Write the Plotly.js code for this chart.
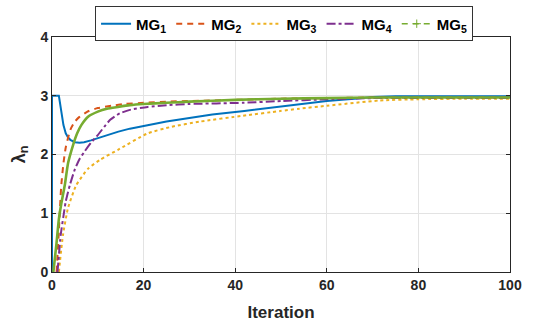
<!DOCTYPE html>
<html>
<head>
<meta charset="utf-8">
<script src="https://cdn.plot.ly/plotly-3.0.1.min.js"></script>
<style>html,body{margin:0;padding:0;background:#fff;}#chart{width:543px;height:327px;}</style>
</head>
<body>
<div id="chart"></div>
<script>
var mg1X = [0,0,1.5,2,2.5,3,3.5,4,5,6,7,8.5,10,12,14.5,17,21,25,30,35,42,48,54,60,66,70,75,80,90,100];
var mg1Y = [0,3,3,2.75,2.5,2.36,2.29,2.25,2.21,2.2,2.21,2.24,2.28,2.33,2.39,2.44,2.50,2.56,2.62,2.68,2.74,2.80,2.86,2.91,2.95,2.98,2.99,2.99,2.99,2.99];

var mg2X = [1,1.5,2,2.5,3,4,5,6,8,10,13,16,20,25,30,40,50,60,70,80,90,100];
var mg2Y = [0,0.7,1.45,1.85,2.12,2.42,2.56,2.64,2.74,2.79,2.83,2.86,2.88,2.90,2.91,2.93,2.95,2.96,2.97,2.97,2.97,2.97];

var mg3X = [1.5,2.4,3.5,5.3,7.9,10.5,14.4,20.9,26,32.3,41.7,49.8,54,60,71.6,80,90,100];
var mg3Y = [0,0.63,1.09,1.48,1.76,1.91,2.08,2.36,2.47,2.56,2.66,2.74,2.78,2.83,2.92,2.94,2.95,2.95];

var mg4X = [1.2,1.9,2.5,3,3.9,5,6,7.1,8.5,10,11.5,12.7,14.8,17,20.9,25,30,41.7,50,60,70,80,90,100];
var mg4Y = [0,0.63,0.95,1.2,1.48,1.75,1.92,2.05,2.2,2.33,2.48,2.59,2.70,2.76,2.81,2.84,2.86,2.88,2.91,2.94,2.96,2.96,2.96,2.96];

var mg5X = [0.3,1,1.5,2,2.8,3.5,4.6,5.5,6.4,8,10,12,14.4,17,20,25,30,40,50,60,70,80,90,100];
var mg5Y = [0,0.5,0.9,1.15,1.48,1.85,2.16,2.36,2.5,2.65,2.73,2.78,2.81,2.84,2.86,2.88,2.90,2.93,2.95,2.96,2.97,2.97,2.97,2.97];

var names = ['<b>MG<sub>1</sub></b>','<b>MG<sub>2</sub></b>','<b>MG<sub>3</sub></b>','<b>MG<sub>4</sub></b>','<b>MG<sub>5</sub></b>'];
var colors = ['#0072BD','#D95319','#EDB120','#7E2F8E','#77AC30'];

var traces = [
  {x: mg1X, y: mg1Y, name: names[0], mode: 'lines', line: {color: colors[0], width: 2}},
  {x: mg2X, y: mg2Y, name: names[1], mode: 'lines', line: {color: colors[1], width: 2, dash: '6px,5px', shape: 'spline', smoothing: 0.5}},
  {x: mg3X, y: mg3Y, name: names[2], mode: 'lines', line: {color: colors[2], width: 2, dash: 'dot', shape: 'spline', smoothing: 0.5}},
  {x: mg4X, y: mg4Y, name: names[3], mode: 'lines', line: {color: colors[3], width: 2, dash: 'dashdot', shape: 'spline', smoothing: 0.5}},
  {x: mg5X, y: mg5Y, name: names[4], mode: 'lines', showlegend: false, line: {color: colors[4], width: 2.6, shape: 'spline', smoothing: 0.5}},
  {x: [null], y: [null], name: names[4], mode: 'lines+markers', line: {color: colors[4], width: 1.5, dash: '6px,5px'}, marker: {symbol: 'cross-thin', size: 6, line: {color: colors[4], width: 1}}}
];

var axisCommon = {
  showline: true, linecolor: '#262626', linewidth: 1, mirror: 'ticks',
  ticks: 'inside', ticklen: 4, tickcolor: '#262626',
  showgrid: true, gridcolor: '#e3e3e3', gridwidth: 1,
  zeroline: false,
  tickfont: {family: 'Liberation Sans, Arial, sans-serif', size: 14, color: '#262626', weight: 'bold'}
};

var layout = {
  width: 543, height: 327,
  margin: {l: 52, r: 33, t: 37, b: 55, autoexpand: false},
  paper_bgcolor: '#fff', plot_bgcolor: '#fff',
  font: {family: 'Liberation Sans, Arial, sans-serif', color: '#262626'},
  xaxis: Object.assign({}, axisCommon, {
    range: [0, 100], tickvals: [0,20,40,60,80,100],
    title: {text: '<b>Iteration</b>', font: {size: 17, color: '#262626'}, standoff: 14}
  }),
  yaxis: Object.assign({}, axisCommon, {
    range: [0, 4], tickvals: [0,1,2,3,4],
    title: {text: '<b>λ<sub>n</sub></b>', font: {size: 18, color: '#262626'}, standoff: 10}
  }),
  legend: {
    orientation: 'h', x: 0.094, y: 1.13, xanchor: 'left', yanchor: 'top',
    bgcolor: '#fff', bordercolor: '#333', borderwidth: 1,
    font: {size: 15, color: '#000'}, itemwidth: 30, tracegroupgap: 0
  },
  showlegend: true
};

Plotly.newPlot('chart', traces, layout, {staticPlot: true, displayModeBar: false});
</script>
</body>
</html>
